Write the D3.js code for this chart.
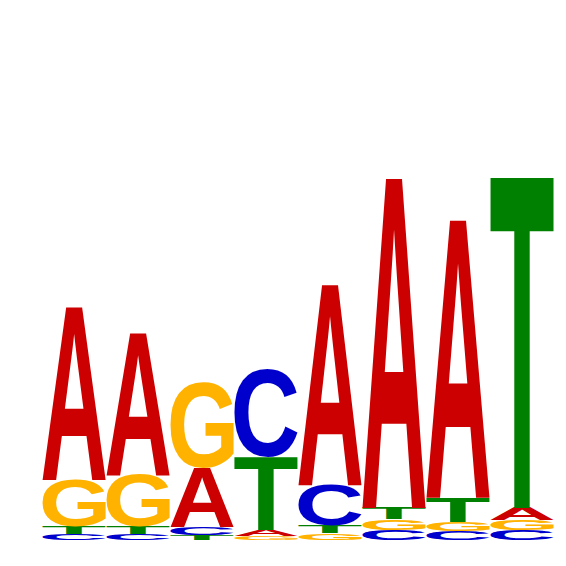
<!DOCTYPE html>
<html>
<head>
<meta charset="utf-8">
<script src="https://cdn.jsdelivr.net/npm/d3@7"></script>
<style>
html,body{margin:0;padding:0;background:#fff;}
svg{display:block;}
</style>
</head>
<body>
<svg id="chart" width="566" height="566"></svg>
<script>
// Sequence logo data (information content per letter, bits)
const positions = [1, 2, 3, 4, 5, 6, 7, 8];
const letters = ["A", "C", "G", "T"];
const bitsA = [0.673, 0.553, 0.230, 0.023, 0.778, 1.280, 1.078, 0.048];
const bitsC = [0.023, 0.023, 0.031, 0.342, 0.156, 0.038, 0.035, 0.038];
const bitsG = [0.183, 0.202, 0.331, 0.016, 0.027, 0.042, 0.036, 0.039];
const bitsT = [0.028, 0.028, 0.019, 0.284, 0.030, 0.045, 0.093, 1.284];
const colors = {A: "#CC0000", C: "#0000CC", G: "#FFB300", T: "#008000"};

const svg = d3.select("#chart");
const x = d3.scaleBand().domain(positions).range([42, 554]).padding(0);
const y = d3.scaleLinear().domain([0, 2]).range([540, 26]);

// Measure the exact ink bounds of each glyph by rasterising it
const FS = 1000, CW = 1400, CH = 1400, OX = 200, OY = 1100;
const canvas = document.createElement("canvas");
canvas.width = CW; canvas.height = CH;
const ctx = canvas.getContext("2d", {willReadFrequently: true});
const metrics = {};
letters.forEach(l => {
  ctx.clearRect(0, 0, CW, CH);
  ctx.font = `bold ${FS}px 'Liberation Sans'`;
  ctx.textBaseline = "alphabetic";
  ctx.fillStyle = "#000";
  ctx.fillText(l, OX, OY);
  const data = ctx.getImageData(0, 0, CW, CH).data;
  let minX = CW, maxX = -1, minY = CH, maxY = -1;
  for (let yy = 0; yy < CH; yy++) {
    for (let xx = 0; xx < CW; xx++) {
      if (data[(yy * CW + xx) * 4 + 3] > 127) {
        if (xx < minX) minX = xx;
        if (xx > maxX) maxX = xx;
        if (yy < minY) minY = yy;
        if (yy > maxY) maxY = yy;
      }
    }
  }
  metrics[l] = {left: OX - minX, right: maxX + 1 - OX, asc: OY - minY, desc: maxY + 1 - OY};
});

const series = {A: bitsA, C: bitsC, G: bitsG, T: bitsT};
const glyphs = [];
positions.forEach((p, i) => {
  const stack = letters.map(l => ({letter: l, value: series[l][i]}))
    .sort((a, b) => a.value - b.value);
  let cum = 0;
  stack.forEach(s => {
    glyphs.push({pos: p, letter: s.letter, y0: cum, y1: cum + s.value});
    cum += s.value;
  });
});

const inset = 0.5;
svg.append("g").selectAll("text").data(glyphs).join("text")
  .attr("font-family", "'Liberation Sans', Arial, sans-serif")
  .attr("font-weight", "bold")
  .attr("font-size", FS)
  .attr("fill", d => colors[d.letter])
  .attr("x", d => metrics[d.letter].left)
  .attr("y", d => metrics[d.letter].asc)
  .attr("transform", d => {
    const m = metrics[d.letter];
    const w = x.bandwidth() - 2 * inset;
    const h = y(d.y0) - y(d.y1);
    const sx = w / (m.left + m.right);
    const sy = h / (m.asc + m.desc);
    return `translate(${x(d.pos) + inset},${y(d.y1)}) scale(${sx},${sy})`;
  })
  .text(d => d.letter);
</script>
</body>
</html>
